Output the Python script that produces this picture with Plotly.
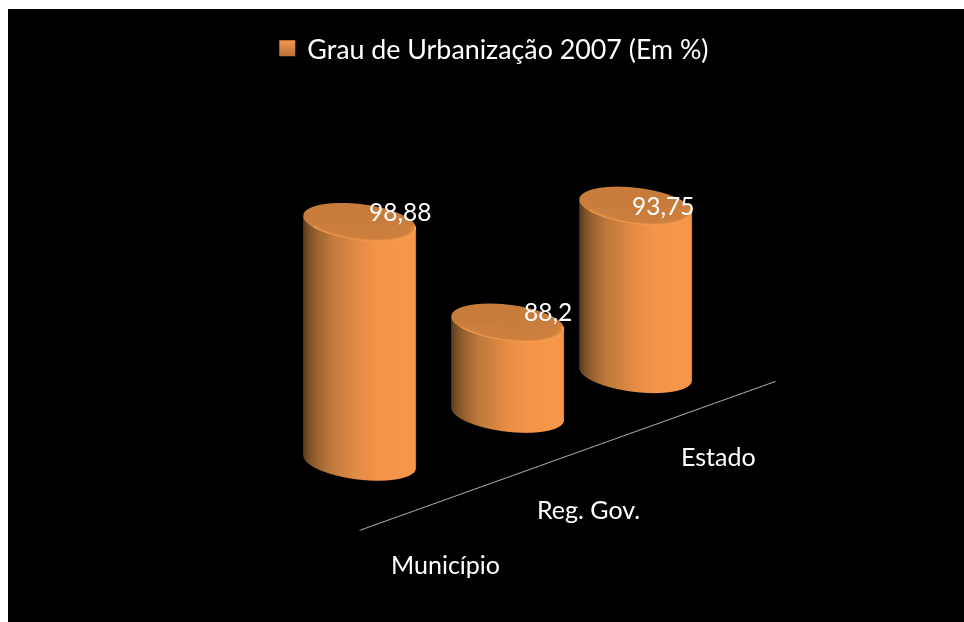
import numpy as np
import plotly.graph_objects as go

categories = ["Município", "Reg. Gov.", "Estado"]
values = [98.88, 88.2, 93.75]
value_labels = ["98,88", "88,2", "93,75"]
series_name = "Grau de Urbanização 2007 (Em %)"

bar_x = [0, 1.045, 1.935]
bar_y = [0, 1.04, 1.88]
value_dx = [0.27, 0.27, 0.12]
value_dy = [0.21, 0.21, -0.115]
cat_x = [-0.435, 0.64, 1.64]
cat_y = [-3.89, -2.59, -1.32]
axis_x = [-0.553, 2.50]
axis_y = [-2.38, 1.04]

BASE = 81.65
RX, RY = 0.249, 0.77
FONT = "Lato, sans-serif"
ORANGE = "#F7964A"
ALPHA, PHI = np.radians(25), np.radians(15)
PX_X, PX_Y = 201, 100
EYE_NORM = 1.515

side_scale = [[0, "#5a3a1c"], [0.05, "#7d5228"], [0.12, "#9a6430"], [0.25, "#c07a3c"], [0.5, "#E68D46"],
              [0.68, "#F5954A"], [0.99, "#F7964A"], [1, "#c07a3c"]]
top_scale = [[0, "#C87C3C"], [0.88, "#CC7F3E"], [0.95, "#E08A42"], [1, "#FAA552"]]
flat = dict(ambient=1, diffuse=0, specular=0, fresnel=0)

theta = np.linspace(0, 2 * np.pi, 181)

fig = go.Figure()
fig.add_trace(go.Scatter(x=[None], y=[None], mode="markers", name=series_name, showlegend=True,
                         marker=dict(symbol="square", size=16, color=ORANGE,
                                     gradient=dict(type="vertical", color="#B8703A"))))

sx = RX * PX_X * np.cos(ALPHA) * np.cos(theta) - RY * PX_Y * np.sin(ALPHA) * np.sin(theta)
depth = RX * PX_X * np.sin(ALPHA) * np.cos(theta) + RY * PX_Y * np.cos(ALPHA) * np.sin(theta)
side_shade = (sx / np.abs(sx).max() + 1) / 2
front = np.clip(-depth / np.abs(depth).max() * 2.5 + 0.4, 0, 1)

for c, v, bx, by in zip(categories, values, bar_x, bar_y):
    X = np.outer(bx + RX * np.cos(theta), [1, 1])
    Y = np.outer(by + RY * np.sin(theta), [1, 1])
    Z = np.outer(np.ones_like(theta), [BASE, v])
    C = np.outer(side_shade, [1, 1])
    fig.add_trace(go.Surface(x=X, y=Y, z=Z, surfacecolor=C, colorscale=side_scale, cmin=0, cmax=1,
                             showscale=False, hoverinfo="skip", lighting=flat))
    r = np.linspace(0, 1, 30)
    Xt = bx + RX * np.outer(r, np.cos(theta))
    Yt = by + RY * np.outer(r, np.sin(theta))
    Zt = np.full_like(Xt, v)
    Ct = np.outer(r, front)
    fig.add_trace(go.Surface(x=Xt, y=Yt, z=Zt, surfacecolor=Ct, colorscale=top_scale, cmin=0, cmax=1,
                             showscale=False, hoverinfo="skip", lighting=flat))

fig.add_trace(go.Scatter3d(x=axis_x, y=axis_y, z=[BASE, BASE], mode="lines",
                           line=dict(color="#a8a8a8", width=2), hoverinfo="skip", showlegend=False))

ann = []
for i, (c, v, l) in enumerate(zip(categories, values, value_labels)):
    ann.append(dict(x=bar_x[i] + value_dx[i], y=bar_y[i] + value_dy[i], z=v, text=l, showarrow=False,
                    font=dict(family=FONT, size=24.5, color="white")))
    ann.append(dict(x=cat_x[i], y=cat_y[i], z=BASE, text=c, showarrow=False,
                    font=dict(family=FONT, size=25, color="white")))

k = 303
fig.update_layout(
    width=956, height=613,
    margin=dict(l=0, r=0, t=0, b=0),
    paper_bgcolor="black", plot_bgcolor="black",
    xaxis=dict(visible=False), yaxis=dict(visible=False),
    showlegend=True,
    legend=dict(orientation="h", x=0.505, xanchor="center", y=0.975, yanchor="top",
                font=dict(family=FONT, size=26.8, color="white"), bgcolor="rgba(0,0,0,0)"),
    scene=dict(
        domain=dict(x=[0, 1], y=[0, 1]),
        bgcolor="black",
        xaxis=dict(visible=False, range=[-1.63, 2.77]),
        yaxis=dict(visible=False, range=[-4.515, 3.515]),
        zaxis=dict(visible=False, range=[BASE - 0.3, BASE + 21.2]),
        aspectmode="manual", aspectratio=dict(x=884 / k, y=803 / k, z=306 / k),
        camera=dict(eye=dict(x=-np.sin(ALPHA) * np.cos(PHI) * EYE_NORM,
                             y=-np.cos(ALPHA) * np.cos(PHI) * EYE_NORM,
                             z=np.sin(PHI) * EYE_NORM),
                    center=dict(x=0, y=0, z=0), projection=dict(type="orthographic")),
        annotations=ann,
    ),
)
fig.write_html("out.html", post_script="var b=document.body.style;b.margin='9px 0 0 8px';b.overflow='hidden';")
